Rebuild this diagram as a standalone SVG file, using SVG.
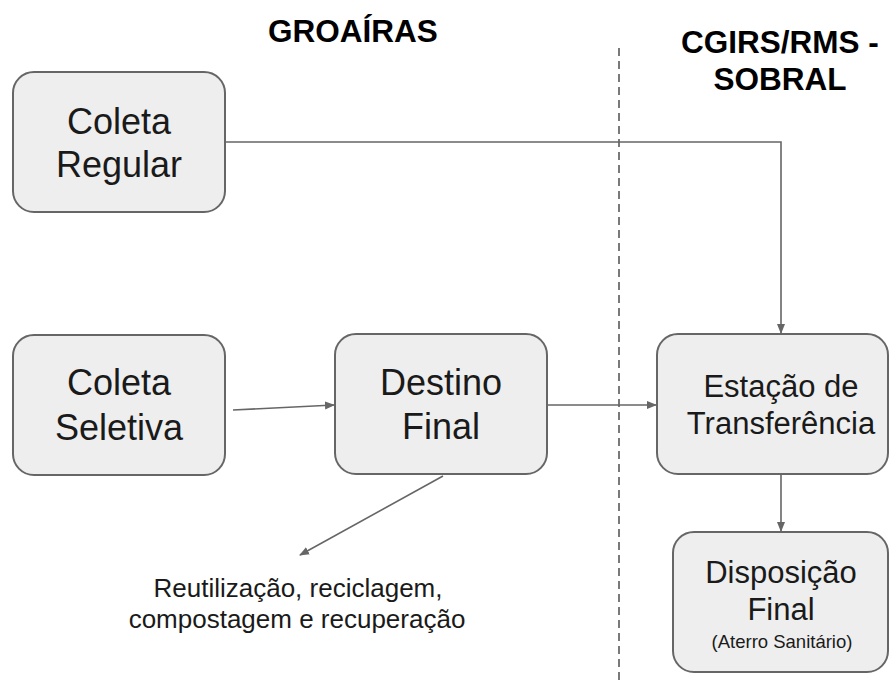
<svg xmlns="http://www.w3.org/2000/svg" width="896" height="683" viewBox="0 0 896 683">
<defs>
<marker id="ah" viewBox="0 0 10 10" refX="9" refY="5" markerWidth="10" markerHeight="10" markerUnits="userSpaceOnUse" orient="auto">
<path d="M0,1 L10,5 L0,9 Z" fill="#666666"/>
</marker>
</defs>
<style>
.box{fill:#eeeeee;stroke:#666666;stroke-width:2}
.t{font-family:"Liberation Sans",Arial,sans-serif;fill:#1a1a1a;text-anchor:middle}
.big{font-size:36px}
.mid{font-size:31px}
.title{font-size:31.5px;font-weight:bold;fill:#000}
.conn{fill:none;stroke:#666666;stroke-width:1.6}
</style>
<rect width="896" height="683" fill="#ffffff"/>
<line x1="619" y1="48" x2="619" y2="683" stroke="#333333" stroke-width="1.3" stroke-dasharray="8,5"/>
<text class="t title" x="353" y="42">GROAÍRAS</text>
<text class="t title" x="780" y="53">CGIRS/RMS -</text>
<text class="t title" x="780" y="90">SOBRAL</text>
<g id="connectors">
<polyline class="conn" points="225,142 781,142 781,333" marker-end="url(#ah)"/>
<line class="conn" x1="233" y1="410" x2="334" y2="405" marker-end="url(#ah)"/>
<line class="conn" x1="547" y1="405" x2="656" y2="405" marker-end="url(#ah)"/>
<line class="conn" x1="781" y1="474" x2="781" y2="531" marker-end="url(#ah)"/>
<line class="conn" x1="443" y1="476" x2="300" y2="555" marker-end="url(#ah)"/>
</g>
<g id="coleta-regular">
<rect class="box" x="13" y="72" width="212" height="140" rx="21"/>
<text class="t big" x="119" y="134">Coleta</text>
<text class="t big" x="119" y="177">Regular</text>
</g>
<g id="coleta-seletiva">
<rect class="box" x="13" y="335" width="212" height="140" rx="21"/>
<text class="t big" x="119" y="395">Coleta</text>
<text class="t big" x="119" y="440">Seletiva</text>
</g>
<g id="destino-final">
<rect class="box" x="335" y="334" width="212" height="140" rx="21"/>
<text class="t big" x="441" y="395">Destino</text>
<text class="t big" x="441" y="439">Final</text>
</g>
<g id="estacao">
<rect class="box" x="657" y="334" width="231" height="140" rx="21"/>
<text class="t mid" x="781" y="397">Estação de</text>
<text class="t mid" x="781" y="434">Transferência</text>
</g>
<g id="disposicao">
<rect class="box" x="673" y="532" width="215" height="140" rx="21"/>
<text class="t mid" x="781" y="583">Disposição</text>
<text class="t mid" x="781" y="620">Final</text>
<text class="t" x="782" y="648" style="font-size:18.5px">(Aterro Sanitário)</text>
</g>
<g id="reutilizacao">
<text class="t" x="298" y="597" style="font-size:26px">Reutilização, reciclagem,</text>
<text class="t" x="297" y="628" style="font-size:26px">compostagem e recuperação</text>
</g>
</svg>
